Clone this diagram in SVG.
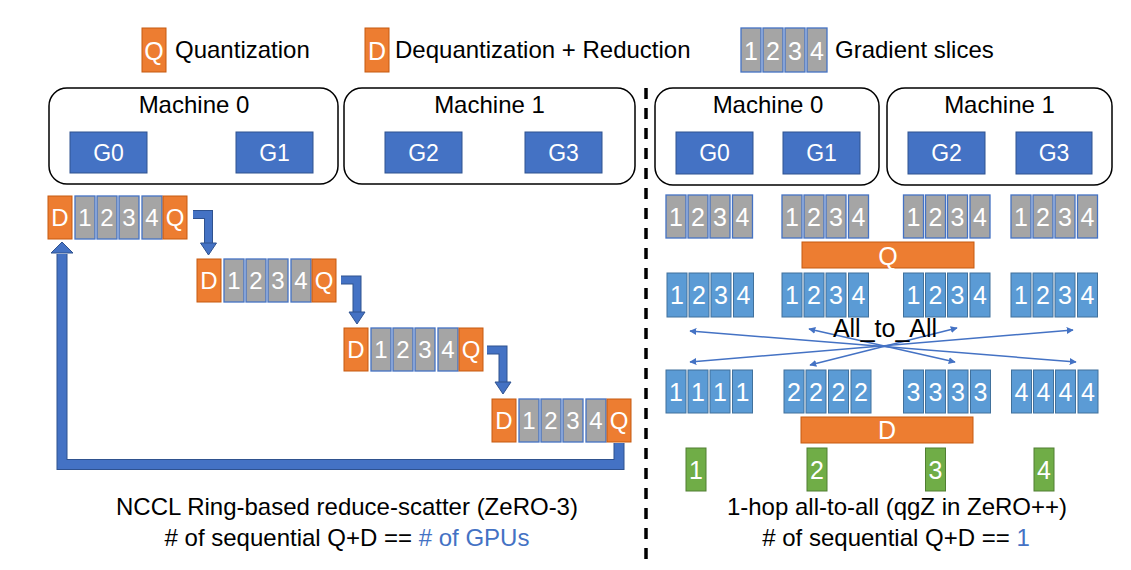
<svg xmlns="http://www.w3.org/2000/svg" width="1131" height="570" viewBox="0 0 1131 570">
<style>
text{font-family:"Liberation Sans",Arial,sans-serif}
.lbl{font-size:24px;fill:#000}
.w{fill:#fff;text-anchor:middle}
.n22{font-size:24px}
.n23{font-size:25px}
.g{font-size:23px}
.mach{fill:#fff;stroke:#000;stroke-width:1.5}
.gpu{fill:#4472C4;stroke:#2F528F;stroke-width:1}
.or{fill:#ED7D31;stroke:#C55A11;stroke-width:1}
.gr{fill:#A5A5A5;stroke:#4472C4;stroke-width:1.3}
.bl{fill:#5B9BD5;stroke:#41719C;stroke-width:1}
.gn{fill:#70AD47;stroke:#507E32;stroke-width:1}
.ao{fill:none;stroke:#2F528F;stroke-width:9}
.ai{fill:none;stroke:#4472C4;stroke-width:7}
.ah{fill:#4472C4;stroke:#2F528F;stroke-width:1}
.thin{stroke:#4472C4;stroke-width:1.5;fill:none;marker-start:url(#ah2);marker-end:url(#ah2)}
</style>
<defs>
<marker id="ah2" viewBox="0 0 10 10" refX="9" refY="5" markerWidth="7" markerHeight="7" orient="auto-start-reverse" markerUnits="userSpaceOnUse">
<path d="M0,0 L10,5 L0,10 z" fill="#4472C4"/>
</marker>
</defs>
<rect width="1131" height="570" fill="#fff"/>

<g id="legend">
<rect class="or" x="142" y="28" width="24" height="44"/>
<text class="w" x="154" y="60" font-size="25">Q</text>
<text class="lbl" x="175" y="58">Quantization</text>
<rect class="or" x="365" y="28" width="24" height="44"/>
<text class="w" x="377" y="60" font-size="25">D</text>
<text class="lbl" x="395" y="58">Dequantization + Reduction</text>
<rect class="gr" x="741" y="28" width="20" height="44"/>
<rect class="gr" x="763" y="28" width="20" height="44"/>
<rect class="gr" x="785" y="28" width="20" height="44"/>
<rect class="gr" x="807" y="28" width="20" height="44"/>
<text class="w n23" x="751" y="60">1</text>
<text class="w n23" x="773" y="60">2</text>
<text class="w n23" x="795" y="60">3</text>
<text class="w n23" x="817" y="60">4</text>
<text class="lbl" x="835" y="58">Gradient slices</text>
</g>

<g id="divider">
<line x1="646" y1="88" x2="646" y2="560" stroke="#000" stroke-width="3.5" stroke-dasharray="11,9"/>
</g>

<g id="left-machine0">
<rect class="mach" x="49" y="88" width="289" height="96" rx="18"/>
<text class="lbl" x="194" y="113" text-anchor="middle">Machine 0</text>
<rect class="gpu" x="70" y="132" width="77" height="41"/>
<text class="w g" x="108.5" y="161">G0</text>
<rect class="gpu" x="236" y="132" width="77" height="41"/>
<text class="w g" x="274.5" y="161">G1</text>
</g>
<g id="left-machine1">
<rect class="mach" x="344" y="88" width="291" height="96" rx="18"/>
<text class="lbl" x="489.5" y="113" text-anchor="middle">Machine 1</text>
<rect class="gpu" x="385" y="132" width="77" height="41"/>
<text class="w g" x="423.5" y="161">G2</text>
<rect class="gpu" x="525" y="132" width="77" height="41"/>
<text class="w g" x="563.5" y="161">G3</text>
</g>

<g id="ring-row0" transform="translate(48,196)">
<rect class="or" x="0" y="0" width="24" height="43"/><text class="w n22" x="12" y="30">D</text>
<rect class="gr" x="27" y="0" width="20" height="43"/><text class="w n22" x="37" y="30">1</text>
<rect class="gr" x="49" y="0" width="20" height="43"/><text class="w n22" x="59" y="30">2</text>
<rect class="gr" x="71" y="0" width="20" height="43"/><text class="w n22" x="81" y="30">3</text>
<rect class="gr" x="94" y="0" width="20" height="43"/><text class="w n22" x="104" y="30">4</text>
<rect class="or" x="115" y="0" width="24" height="43"/><text class="w n22" x="127" y="30">Q</text>
</g>
<g id="ring-row1" transform="translate(197,259)">
<rect class="or" x="0" y="0" width="24" height="43"/><text class="w n22" x="12" y="30">D</text>
<rect class="gr" x="27" y="0" width="20" height="43"/><text class="w n22" x="37" y="30">1</text>
<rect class="gr" x="49" y="0" width="20" height="43"/><text class="w n22" x="59" y="30">2</text>
<rect class="gr" x="71" y="0" width="20" height="43"/><text class="w n22" x="81" y="30">3</text>
<rect class="gr" x="94" y="0" width="20" height="43"/><text class="w n22" x="104" y="30">4</text>
<rect class="or" x="115" y="0" width="24" height="43"/><text class="w n22" x="127" y="30">Q</text>
</g>
<g id="ring-row2" transform="translate(344,328)">
<rect class="or" x="0" y="0" width="24" height="43"/><text class="w n22" x="12" y="30">D</text>
<rect class="gr" x="27" y="0" width="20" height="43"/><text class="w n22" x="37" y="30">1</text>
<rect class="gr" x="49" y="0" width="20" height="43"/><text class="w n22" x="59" y="30">2</text>
<rect class="gr" x="71" y="0" width="20" height="43"/><text class="w n22" x="81" y="30">3</text>
<rect class="gr" x="94" y="0" width="20" height="43"/><text class="w n22" x="104" y="30">4</text>
<rect class="or" x="115" y="0" width="24" height="43"/><text class="w n22" x="127" y="30">Q</text>
</g>
<g id="ring-row3" transform="translate(492,399)">
<rect class="or" x="0" y="0" width="24" height="43"/><text class="w n22" x="12" y="30">D</text>
<rect class="gr" x="27" y="0" width="20" height="43"/><text class="w n22" x="37" y="30">1</text>
<rect class="gr" x="49" y="0" width="20" height="43"/><text class="w n22" x="59" y="30">2</text>
<rect class="gr" x="71" y="0" width="20" height="43"/><text class="w n22" x="81" y="30">3</text>
<rect class="gr" x="94" y="0" width="20" height="43"/><text class="w n22" x="104" y="30">4</text>
<rect class="or" x="115" y="0" width="24" height="43"/><text class="w n22" x="127" y="30">Q</text>
</g>

<g id="ring-connectors">
<path class="ao" d="M193,214.5 H208.5 V244"/>
<path class="ai" d="M193,214.5 H208.5 V244"/>
<polygon class="ah" points="200.5,243 216.5,243 208.5,255"/>
<path class="ao" d="M341,280 H357 V313"/>
<path class="ai" d="M341,280 H357 V313"/>
<polygon class="ah" points="349,312 365,312 357,324"/>
<path class="ao" d="M487,350 H503 V384"/>
<path class="ai" d="M487,350 H503 V384"/>
<polygon class="ah" points="495,382 511,382 503,394"/>
<path d="M619,443 V464.5 H62 V254" fill="none" stroke="#2F528F" stroke-width="11"/>
<path d="M619,443 V464.5 H62 V254" fill="none" stroke="#4472C4" stroke-width="9"/>
<polygon class="ah" points="51,253 73,253 62,242"/>
</g>

<g id="left-caption">
<text class="lbl" x="347" y="515" text-anchor="middle">NCCL Ring-based reduce-scatter (ZeRO-3)</text>
<text class="lbl" x="347" y="546" text-anchor="middle"># of sequential Q+D == <tspan fill="#4472C4"># of GPUs</tspan></text>
</g>

<g id="right-machine0">
<rect class="mach" x="655" y="88" width="224" height="97" rx="18"/>
<text class="lbl" x="768" y="113" text-anchor="middle">Machine 0</text>
<rect class="gpu" x="676" y="132" width="77" height="42"/>
<text class="w g" x="714.5" y="161">G0</text>
<rect class="gpu" x="783" y="132" width="77" height="42"/>
<text class="w g" x="821.5" y="161">G1</text>
</g>
<g id="right-machine1">
<rect class="mach" x="887" y="88" width="225" height="97" rx="18"/>
<text class="lbl" x="999.5" y="113" text-anchor="middle">Machine 1</text>
<rect class="gpu" x="908" y="132" width="77" height="42"/>
<text class="w g" x="946.5" y="161">G2</text>
<rect class="gpu" x="1016" y="132" width="76" height="42"/>
<text class="w g" x="1054" y="161">G3</text>
</g>

<g id="grad-row">
<g transform="translate(666,195)">
<rect class="gr" x="0" y="0" width="20" height="43"/><text class="w n23" x="10" y="31">1</text>
<rect class="gr" x="22" y="0" width="20" height="43"/><text class="w n23" x="32" y="31">2</text>
<rect class="gr" x="44" y="0" width="20" height="43"/><text class="w n23" x="54" y="31">3</text>
<rect class="gr" x="66.5" y="0" width="20" height="43"/><text class="w n23" x="76.5" y="31">4</text>
</g>
<g transform="translate(782,195)">
<rect class="gr" x="0" y="0" width="20" height="43"/><text class="w n23" x="10" y="31">1</text>
<rect class="gr" x="22" y="0" width="20" height="43"/><text class="w n23" x="32" y="31">2</text>
<rect class="gr" x="44" y="0" width="20" height="43"/><text class="w n23" x="54" y="31">3</text>
<rect class="gr" x="66.5" y="0" width="20" height="43"/><text class="w n23" x="76.5" y="31">4</text>
</g>
<g transform="translate(903.5,195)">
<rect class="gr" x="0" y="0" width="20" height="43"/><text class="w n23" x="10" y="31">1</text>
<rect class="gr" x="22" y="0" width="20" height="43"/><text class="w n23" x="32" y="31">2</text>
<rect class="gr" x="44" y="0" width="20" height="43"/><text class="w n23" x="54" y="31">3</text>
<rect class="gr" x="66.5" y="0" width="20" height="43"/><text class="w n23" x="76.5" y="31">4</text>
</g>
<g transform="translate(1011,195)">
<rect class="gr" x="0" y="0" width="20" height="43"/><text class="w n23" x="10" y="31">1</text>
<rect class="gr" x="22" y="0" width="20" height="43"/><text class="w n23" x="32" y="31">2</text>
<rect class="gr" x="44" y="0" width="20" height="43"/><text class="w n23" x="54" y="31">3</text>
<rect class="gr" x="66.5" y="0" width="20" height="43"/><text class="w n23" x="76.5" y="31">4</text>
</g>
</g>

<g id="q-bar">
<rect class="or" x="802" y="242" width="172" height="26"/>
<text class="w" x="888" y="265" font-size="25">Q</text>
</g>

<g id="quant-row">
<g transform="translate(667,273)">
<rect class="bl" x="0" y="0" width="20" height="44"/><text class="w n23" x="10" y="31">1</text>
<rect class="bl" x="22" y="0" width="20" height="44"/><text class="w n23" x="32" y="31">2</text>
<rect class="bl" x="44" y="0" width="20" height="44"/><text class="w n23" x="54" y="31">3</text>
<rect class="bl" x="66.5" y="0" width="20" height="44"/><text class="w n23" x="76.5" y="31">4</text>
</g>
<g transform="translate(782,273)">
<rect class="bl" x="0" y="0" width="20" height="44"/><text class="w n23" x="10" y="31">1</text>
<rect class="bl" x="22" y="0" width="20" height="44"/><text class="w n23" x="32" y="31">2</text>
<rect class="bl" x="44" y="0" width="20" height="44"/><text class="w n23" x="54" y="31">3</text>
<rect class="bl" x="66.5" y="0" width="20" height="44"/><text class="w n23" x="76.5" y="31">4</text>
</g>
<g transform="translate(903.5,273)">
<rect class="bl" x="0" y="0" width="20" height="44"/><text class="w n23" x="10" y="31">1</text>
<rect class="bl" x="22" y="0" width="20" height="44"/><text class="w n23" x="32" y="31">2</text>
<rect class="bl" x="44" y="0" width="20" height="44"/><text class="w n23" x="54" y="31">3</text>
<rect class="bl" x="66.5" y="0" width="20" height="44"/><text class="w n23" x="76.5" y="31">4</text>
</g>
<g transform="translate(1011,273)">
<rect class="bl" x="0" y="0" width="20" height="44"/><text class="w n23" x="10" y="31">1</text>
<rect class="bl" x="22" y="0" width="20" height="44"/><text class="w n23" x="32" y="31">2</text>
<rect class="bl" x="44" y="0" width="20" height="44"/><text class="w n23" x="54" y="31">3</text>
<rect class="bl" x="66.5" y="0" width="20" height="44"/><text class="w n23" x="76.5" y="31">4</text>
</g>
</g>

<g id="all-to-all-connectors">
<line class="thin" x1="690" y1="331" x2="1076" y2="362"/>
<line class="thin" x1="1073" y1="330" x2="690" y2="362"/>
<line class="thin" x1="809" y1="329" x2="955" y2="362"/>
<line class="thin" x1="957" y1="328" x2="810" y2="365"/>
</g>
<g id="all-to-all-label">
<text x="885" y="337" font-size="25" text-anchor="middle" fill="#000">All_to_All</text>
</g>

<g id="gathered-row">
<g transform="translate(666,370)">
<rect class="bl" x="0" y="0" width="20" height="43"/><text class="w n23" x="10" y="31">1</text>
<rect class="bl" x="22" y="0" width="20" height="43"/><text class="w n23" x="32" y="31">1</text>
<rect class="bl" x="44" y="0" width="20" height="43"/><text class="w n23" x="54" y="31">1</text>
<rect class="bl" x="66.5" y="0" width="20" height="43"/><text class="w n23" x="76.5" y="31">1</text>
</g>
<g transform="translate(784,370)">
<rect class="bl" x="0" y="0" width="20" height="43"/><text class="w n23" x="10" y="31">2</text>
<rect class="bl" x="22" y="0" width="20" height="43"/><text class="w n23" x="32" y="31">2</text>
<rect class="bl" x="44.5" y="0" width="20" height="43"/><text class="w n23" x="54.5" y="31">2</text>
<rect class="bl" x="67" y="0" width="20" height="43"/><text class="w n23" x="77" y="31">2</text>
</g>
<g transform="translate(903.5,370)">
<rect class="bl" x="0" y="0" width="20" height="43"/><text class="w n23" x="10" y="31">3</text>
<rect class="bl" x="22" y="0" width="20" height="43"/><text class="w n23" x="32" y="31">3</text>
<rect class="bl" x="44.5" y="0" width="20" height="43"/><text class="w n23" x="54.5" y="31">3</text>
<rect class="bl" x="67" y="0" width="20" height="43"/><text class="w n23" x="77" y="31">3</text>
</g>
<g transform="translate(1011.5,370)">
<rect class="bl" x="0" y="0" width="20" height="43"/><text class="w n23" x="10" y="31">4</text>
<rect class="bl" x="22" y="0" width="20" height="43"/><text class="w n23" x="32" y="31">4</text>
<rect class="bl" x="44" y="0" width="20" height="43"/><text class="w n23" x="54" y="31">4</text>
<rect class="bl" x="66.5" y="0" width="20" height="43"/><text class="w n23" x="76.5" y="31">4</text>
</g>
</g>

<g id="d-bar">
<rect class="or" x="801" y="417" width="172" height="26"/>
<text class="w" x="887" y="439" font-size="25">D</text>
</g>

<g id="results">
<rect class="gn" x="686" y="448" width="20" height="43"/><text class="w n23" x="696" y="479">1</text>
<rect class="gn" x="807" y="448" width="20" height="43"/><text class="w n23" x="817" y="479">2</text>
<rect class="gn" x="925.5" y="448" width="20" height="43"/><text class="w n23" x="935.5" y="479">3</text>
<rect class="gn" x="1034" y="448" width="20" height="43"/><text class="w n23" x="1044" y="479">4</text>
</g>

<g id="right-caption">
<text class="lbl" x="897" y="515" text-anchor="middle">1-hop all-to-all (qgZ in ZeRO++)</text>
<text class="lbl" x="896" y="546" text-anchor="middle"># of sequential Q+D == <tspan fill="#4472C4">1</tspan></text>
</g>
</svg>
